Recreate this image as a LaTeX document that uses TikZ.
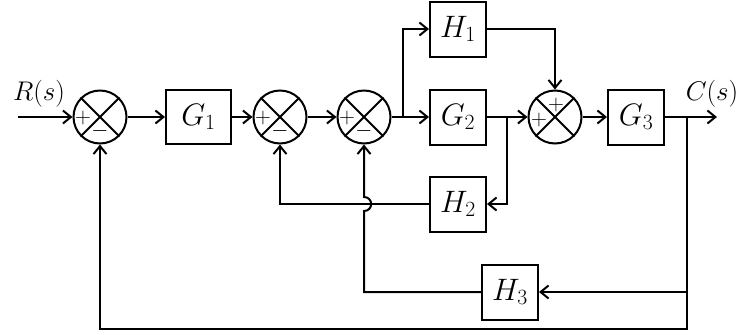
\RequirePackage{fix-cm}
\documentclass[tikz,border=0pt]{standalone}
\usetikzlibrary{arrows.meta,calc}
\begin{document}
\begin{tikzpicture}[x=1pt,y=-1pt,
  line width=2pt,
  blk/.style={draw,line width=2pt,minimum width=56pt,minimum height=55pt,inner sep=0pt,font=\fontsize{31}{34}\selectfont},
  sumj/.style={draw,circle,line width=2pt,minimum size=53pt,inner sep=0pt},
  sig/.style={font=\fontsize{22}{22}\selectfont,inner sep=0pt},
  lbl/.style={font=\fontsize{27}{30}\selectfont,inner sep=0pt},
  arr/.style={-{Straight Barb[length=8pt,width=13pt]}},
]
\useasboundingbox (0,0) rectangle (737,335);
% summing junctions
\node[sumj] (s1) at (100,117) {};
\node[sumj] (s2) at (280,117) {};
\node[sumj] (s3) at (364,117) {};
\node[sumj] (s4) at (555,117) {};
\foreach \s in {s1,s2,s3,s4}{
  \draw (\s.north west) -- (\s.south east) (\s.north east) -- (\s.south west);
}
\foreach \s in {s1,s2,s3}{
  \node[sig] at ($(\s)+(-17,1)$) {$+$};
  \node[sig] at ($(\s)+(0,14)$) {$-$};
}
\node[sig] at ($(s4)+(1,-12)$) {$+$};
\node[sig] at ($(s4)+(-16,3)$) {$+$};
% blocks
\node[blk,minimum width=65pt,minimum height=54pt] (g1) at (198.5,117) {$G_1$};
\node[blk] (h1) at (458,29) {$H_1$};
\node[blk] (g2) at (458,117) {$G_2$};
\node[blk] (h2) at (458,204) {$H_2$};
\node[blk] (g3) at (636,117) {$G_3$};
\node[blk] (h3) at (510,292) {$H_3$};
% labels
\node[lbl] (rl) at (39,94) {$R(s)$};
\node[lbl] (cl) at (712,94) {$C(s)$};
% coordinates
\coordinate (in) at (18,117);
\coordinate (out) at (717,117);
\coordinate (b1) at (403,117);
\coordinate (b2) at (507,117);
\coordinate (b3) at (687,117);
\coordinate (bot) at (687,329);
% forward path
\draw[arr] (in) -- (s1.west);
\draw[arr] (s1.east) -- (g1.west);
\draw[arr] (g1.east) -- (s2.west);
\draw[arr] (s2.east) -- (s3.west);
\draw[arr] (s3.east) -- (g2.west);
\draw[arr] (b1) |- (h1.west);
\draw[arr] (g2.east) -- (s4.west);
\draw[arr] (h1.east) -| (s4.north);
\draw[arr] (s4.east) -- (g3.west);
\draw[arr] (g3.east) -- (out);
% feedback paths
\draw[arr] (b2) |- (h2.east);
\draw[arr] (h2.west) -| (s2.south);
\draw[arr] (h3.west) -| (364,211) .. controls (373.5,211) and (373.5,197) .. (364,197) -- (s3.south);
\draw[arr] (b3 |- h3.east) -- (h3.east);
\draw[arr] (b3) -- (bot) -| (s1.south);
\end{tikzpicture}
\end{document}
